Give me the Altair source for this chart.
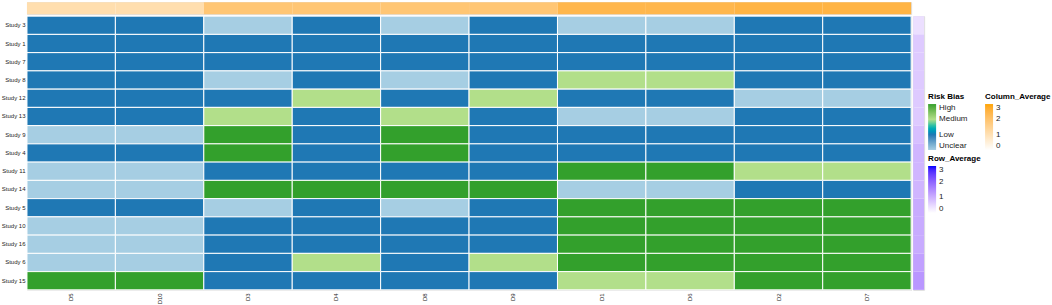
import altair as alt
import pandas as pd

studies = ["Study 3", "Study 1", "Study 7", "Study 8", "Study 12", "Study 13", "Study 9",
           "Study 4", "Study 11", "Study 14", "Study 5", "Study 10", "Study 16", "Study 6", "Study 15"]
domains = ["D5", "D10", "D3", "D4", "D8", "D9", "D1", "D6", "D2", "D7"]
levels = ["Unclear", "Low", "Medium", "High"]
level_colors = ["#a6cee3", "#1f78b4", "#b2df8a", "#33a02c"]

# U = Unclear, L = Low, M = Medium, H = High (columns in the order of `domains`)
s3  = ["L", "L", "U", "L", "U", "L", "U", "U", "L", "L"]
s1  = ["L", "L", "L", "L", "L", "L", "L", "L", "L", "L"]
s7  = ["L", "L", "L", "L", "L", "L", "L", "L", "L", "L"]
s8  = ["L", "L", "U", "L", "U", "L", "M", "M", "L", "L"]
s12 = ["L", "L", "L", "M", "L", "M", "L", "L", "U", "U"]
s13 = ["L", "L", "M", "L", "M", "L", "U", "U", "L", "L"]
s9  = ["U", "U", "H", "L", "H", "L", "L", "L", "L", "L"]
s4  = ["L", "L", "H", "L", "H", "L", "L", "L", "L", "L"]
s11 = ["U", "U", "L", "L", "L", "L", "H", "H", "M", "M"]
s14 = ["U", "U", "H", "H", "H", "H", "U", "U", "L", "L"]
s5  = ["L", "L", "U", "L", "U", "L", "H", "H", "H", "H"]
s10 = ["U", "U", "L", "L", "L", "L", "H", "H", "H", "H"]
s16 = ["U", "U", "L", "L", "L", "L", "H", "H", "H", "H"]
s6  = ["U", "U", "L", "M", "L", "M", "H", "H", "H", "H"]
s15 = ["H", "H", "L", "L", "L", "L", "M", "M", "H", "H"]
grid = [s3, s1, s7, s8, s12, s13, s9, s4, s11, s14, s5, s10, s16, s6, s15]

col_avg = [1.1, 1.1, 1.9, 1.9, 1.9, 1.9, 2.4, 2.4, 2.5, 2.5]
row_avg = [0.4, 0.667, 0.667, 0.667, 0.667, 0.667, 0.8, 0.933, 0.933, 0.933,
           1.067, 1.067, 1.067, 1.2, 1.333]

code = {"U": 0, "L": 1, "M": 2, "H": 3}
records = []
for st, row in zip(studies, grid):
    for d, v in zip(domains, row):
        records.append({"study": st, "domain": d, "score": code[v]})
df = pd.DataFrame(records)
coldf = pd.DataFrame({"domain": domains, "Column_Average": col_avg})
rowdf = pd.DataFrame({"study": studies, "Row_Average": row_avg})

band = alt.Scale(paddingInner=0, paddingOuter=0)
leg_common = dict(orient="none", direction="vertical", gradientThickness=8,
                  titleFontSize=8, titleFontWeight="bold", titleColor="black",
                  labelFontSize=8, labelColor="#222", labelOverlap=False,
                  titlePadding=3, labelOffset=3, gradientStrokeWidth=0)

main = alt.Chart(df).mark_rect(stroke="white", strokeWidth=1).encode(
    x=alt.X("domain:N", sort=domains, scale=band,
            axis=alt.Axis(title=None, labelAngle=270, labelFontSize=6, ticks=False,
                          domain=False, labelPadding=3, labelColor="#222")),
    y=alt.Y("study:N", sort=studies, scale=band,
            axis=alt.Axis(title=None, labelFontSize=6, ticks=False, domain=False,
                          labelPadding=2, labelColor="#222")),
    color=alt.Color("score:Q",
                    scale=alt.Scale(domain=[0, 1, 2, 3], range=level_colors),
                    legend=alt.Legend(title="Risk Bias", legendX=902, legendY=77,
                                      values=[0, 1, 2, 3], gradientLength=46,
                                      labelExpr="datum.value == 3 ? 'High' : datum.value == 2 ? 'Medium' : datum.value == 1 ? 'Low' : 'Unclear'",
                                      **leg_common)),
).properties(width=885, height=274)

top = alt.Chart(coldf).mark_rect().encode(
    x=alt.X("domain:N", sort=domains, scale=band, axis=None),
    color=alt.Color("Column_Average:Q",
                    scale=alt.Scale(domain=[0, 3], range=["white", "orange"], interpolate="lab"),
                    legend=alt.Legend(title="Column_Average", legendX=959, legendY=91,
                                      values=[0, 1, 2, 3], gradientLength=46, **leg_common)),
).properties(width=885, height=12)

right = alt.Chart(rowdf).mark_rect().encode(
    y=alt.Y("study:N", sort=studies, scale=band, axis=None),
    color=alt.Color("Row_Average:Q",
                    scale=alt.Scale(domain=[0, 3], range=["white", "blue"], interpolate="lab"),
                    legend=alt.Legend(title="Row_Average", legendX=15, legendY=139,
                                      values=[0, 1, 2, 3], gradientLength=47, **leg_common)),
).properties(width=11, height=274)

lower = alt.hconcat(main, right, spacing=2, bounds="flush").resolve_scale(color="independent")
chart = alt.vconcat(top, lower, spacing=2, bounds="flush").resolve_scale(color="independent")
chart = chart.properties(padding={"left": 0, "top": 1, "right": 0, "bottom": 0}).configure_view(
    strokeWidth=0).configure(font="Liberation Sans")

chart.save("out.html", embed_options={"renderer": "svg", "actions": False})
